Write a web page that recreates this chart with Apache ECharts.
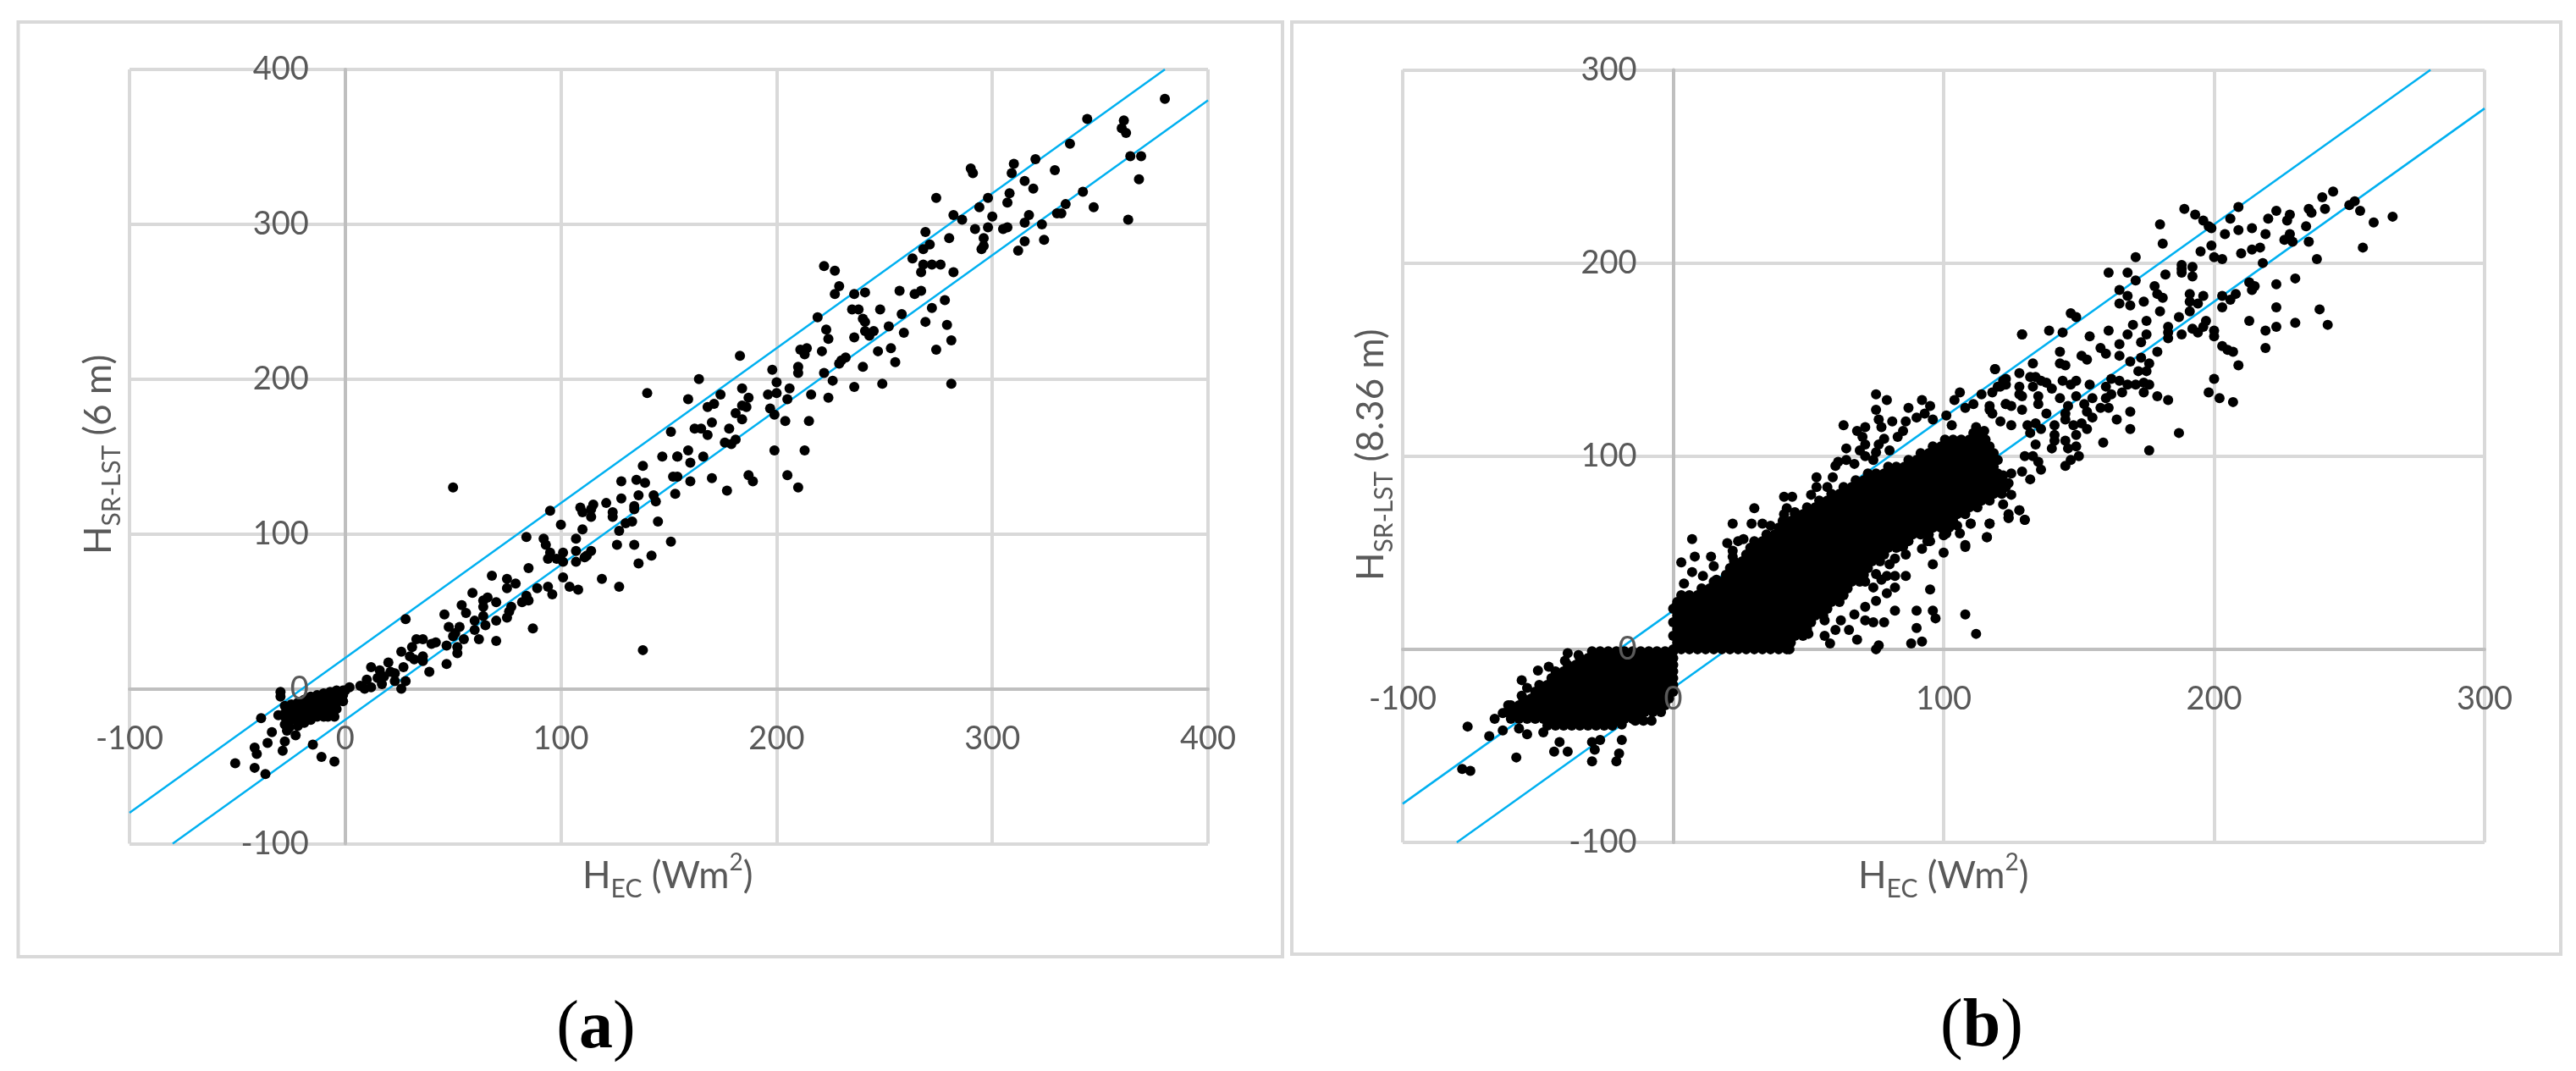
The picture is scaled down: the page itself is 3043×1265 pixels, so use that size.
<!DOCTYPE html>
<html><head><meta charset="utf-8">
<style>html,body{margin:0;padding:0;background:#fff}#c{width:3043px;height:1265px}</style>
<script src="https://cdn.jsdelivr.net/npm/echarts@6/dist/echarts.min.js"></script>
</head><body><div id="c"></div>
<script>
// Panel (a): HEC, HSR-LST (6 m)
const aHigh = [[380,381],[344,368],[361,367],[360,362],[362,359],[336,352],[364,344],[369,344],[320,342],[310,339],[290,336],[291,333],[309,333],[315,328],[329,335],[319,323],[308,320],[298,317],[274,317],[342,321],[368,329],[307,314],[294,311],[334,313],[347,311],[282,306],[286,303],[300,305],[330,307],[332,307],[317,306],[315,301],[323,300],[363,303],[307,298],[305,297],[298,298],[292,297],[269,295],[280,291],[296,291],[324,290],[315,289],[296,286],[295,284],[312,283],[271,287],[268,284],[263,278],[268,274],[272,274],[276,274],[267,269],[282,269],[222,273],[227,270],[229,260],[227,255],[236,255],[241,256],[257,257],[267,257],[264,255],[278,251],[272,246],[235,245],[238,245],[248,245],[219,240],[258,242],[240,239],[241,237],[269,237],[279,235],[252,234],[223,232],[241,231],[245,231],[259,230],[243,228],[224,226],[236,227],[281,225],[253,220],[274,219],[211,219],[214,220],[247,218],[213,216],[221,218],[232,214],[230,212],[255,211],[229,210],[240,208]];
const aMid = [[183,215],[210,208],[198,206],[210,204],[222,204],[164,200],[200,198],[226,199],[236,195],[249,197],[281,197],[184,194],[206,194],[174,190],[200,191],[196,190],[216,190],[224,188],[187,188],[159,187],[205,187],[171,184],[168,182],[184,183],[186,182],[197,181],[181,178],[199,177],[184,174],[204,173],[215,173],[170,172],[162,168],[165,168],[178,168],[168,164],[181,161],[176,159],[179,158],[159,154],[199,154],[213,154],[154,150],[166,150],[160,146],[154,137],[160,134],[170,136],[187,138],[189,134],[205,138],[210,130],[177,128],[140,191],[151,166],[147,150],[138,144],[135,135],[139,133],[128,134],[50,130],[136,125],[128,123],[143,125],[152,137],[154,150],[153,126],[121,120],[115,119],[95,115],[109,117],[134,118],[144,121]];
const aLow = [[110,114],[114,116],[124,114],[134,116],[114,111],[124,111],[100,106],[110,103],[130,107],[133,108],[145,108],[127,102],[84,98],[107,97],[126,93],[134,93],[151,95],[142,86],[136,81],[92,97],[93,93],[95,88],[94,84],[98,84],[101,88],[101,82],[107,82],[107,89],[112,86],[114,89],[111,85],[85,78],[101,72],[119,71],[127,66],[68,73],[75,71],[79,68],[75,65],[89,65],[94,66],[96,61],[104,66],[108,64],[59,62],[66,59],[64,57],[70,56],[64,53],[54,54],[56,49],[46,48],[77,53],[76,50],[82,56],[85,57],[84,60],[64,47],[75,46],[70,44],[60,44],[65,41],[60,38],[48,40],[53,40],[51,36],[55,32],[62,32],[70,31],[87,39],[138,25],[50,34],[52,27],[47,28],[52,23],[33,32],[36,32],[40,29],[42,30],[28,45],[31,27],[26,24],[30,21],[32,19],[36,21],[36,18],[47,16],[39,11],[20,17],[12,14],[16,12],[27,14],[21,11],[23,10],[18,8],[15,7],[10,6],[23,5],[28,5],[26,0],[12,1],[7,2],[9,0],[2,1],[17,3]];
const aNegative = [[-30,-2],[-30,-5],[-39,-19],[-31,-17],[-28,-18],[-34,-28],[-23,-30],[-28,-34],[-36,-35],[-42,-38],[-41,-42],[-29,-40],[-15,-36],[-51,-48],[-42,-51],[-11,-44],[-5,-47],[-37,-55]];
const aBlob = [[-28,-11],[-28,-16],[-25,-10],[-25,-15],[-25,-20],[-22,-9],[-22,-14],[-22,-19],[-22,-24],[-19,-7],[-19,-12],[-19,-17],[-19,-22],[-16,-5],[-16,-10],[-16,-15],[-16,-20],[-13,-4],[-13,-9],[-13,-14],[-13,-18],[-10,-3],[-10,-8],[-10,-13],[-10,-18],[-7,-2],[-7,-6],[-7,-11],[-7,-16],[-4,-1],[-4,-5],[-4,-9],[-4,-13],[-1,-1],[-1,-4],[-1,-8],[0,-1],[-8,-18],[-5,-18],[-28,-23],[-27,-27],[-26,-25]];
const aUpperLine = [[-100,-80],[380,400]];
const aLowerLine = [[-80,-100],[400,380]];

// Panel (b): HEC, HSR-LST (8.36 m)
const bHigh = [[244,237],[240,234],[235,228],[236,226],[241,228],[252,232],[250,230],[254,227],[259,221],[266,224],[255,208],[238,202],[235,211],[234,219],[229,211],[228,215],[226,212],[228,225],[227,222],[223,227],[220,223],[219,215],[214,218],[209,217],[204,215],[209,229],[206,223],[189,228],[193,225],[196,222],[198,219],[199,218],[180,220],[181,210],[199,209],[195,206],[200,203],[203,202],[210,205],[214,207],[217,208],[218,200],[171,203],[161,195],[168,195],[188,199],[188,197],[192,198],[188,195],[192,193],[182,194],[171,191],[165,186],[178,188],[179,184],[181,182],[168,183],[165,179],[169,178],[174,180],[191,184],[196,183],[191,180],[194,179],[191,175],[180,175],[187,172],[203,183],[208,184],[206,181],[203,177],[213,190],[214,186],[215,188],[223,189],[230,192],[223,177],[239,176],[230,169],[223,167],[219,165],[242,168],[213,170],[219,156]];
const bMid = [[147,174],[149,172],[170,168],[175,170],[161,165],[139,165],[144,164],[129,163],[154,162],[168,163],[175,163],[183,167],[183,164],[183,161],[188,163],[192,166],[194,164],[196,167],[197,170],[200,165],[200,162],[173,159],[165,158],[158,156],[160,153],[165,152],[151,152],[153,150],[143,154],[143,148],[145,147],[133,148],[119,145],[128,143],[169,149],[173,151],[176,148],[179,154],[203,157],[205,155],[207,154],[209,147],[200,140],[198,133],[202,130],[207,128],[187,112],[176,103],[159,107],[179,131],[183,129],[169,123],[164,119],[169,114],[161,125],[158,125],[155,130],[172,144],[175,144],[176,137],[174,138],[171,137],[174,133],[166,133],[168,137],[165,139],[162,140],[160,136],[162,132],[160,130],[154,137],[149,139],[147,137],[144,139],[140,135],[138,138],[134,141],[132,141],[133,136],[136,139],[122,139],[123,137],[121,136],[128,136],[128,132],[129,131],[135,131],[135,127],[149,131],[143,130],[146,126],[152,127],[153,123],[155,120],[138,122],[129,124],[125,126],[123,127],[117,126],[118,122],[121,118],[125,116],[131,116],[134,117],[136,114],[132,112],[141,116],[145,122],[145,119],[148,116],[151,117],[153,114],[149,111],[141,111],[141,108],[140,104],[145,108],[146,104],[149,105],[150,100],[147,98],[145,95],[134,106],[130,100],[133,100],[135,97],[136,93],[129,92],[125,91],[122,90],[132,88],[124,86],[125,80],[122,75],[124,68],[128,72],[130,67],[117,65],[116,58],[108,53],[110,65],[100,59],[94,56]];
const bUpperEdge = [[75,132],[79,129],[87,125],[92,129],[95,126],[93,122],[90,120],[86,118],[85,113],[81,118],[75,124],[76,119],[77,115],[63,116],[71,115],[68,113],[70,110],[71,106],[69,103],[64,104],[71,100],[78,109],[76,106],[83,110],[80,103],[75,102],[74,98],[61,97],[64,98],[60,95],[67,96],[53,89],[59,89],[57,84],[53,84],[51,80],[41,79],[44,79],[30,73],[42,73],[45,71],[41,70],[22,65],[29,65],[33,65],[36,64],[7,57],[20,55],[24,56],[26,57],[22,51],[22,48],[8,48],[14,48],[15,43],[3,45],[7,40],[11,38],[4,34],[16,36],[5,27],[1,22],[119,145],[106,133],[104,129],[114,132],[118,133],[111,127],[108,125],[101,121],[96,119],[103,116],[117,124],[123,127],[112,115],[115,113],[129,163],[123,140],[120,136]];
const bLowerEdge = [[108,54],[116,58],[117,65],[124,68],[100,50],[96,44],[95,31],[108,18],[112,8],[90,20],[96,20],[97,16],[82,20],[78,14],[74,14],[71,15],[90,11],[92,4],[88,3],[76,2],[75,0],[68,5],[65,10],[60,10],[58,3],[56,7],[43,0],[50,8],[46,9],[62,15],[56,15],[67,18],[71,22],[75,25],[74,32],[71,35],[79,29],[82,32],[77,36],[86,38],[82,38],[79,38],[82,47],[80,44],[75,39],[86,49],[85,53],[92,52],[95,56],[106,60],[110,65],[105,64],[101,60],[124,70],[128,72],[130,67]];
const bNegativeEdge = [[-76,-40],[-78,-62],[-75,-63],[-68,-45],[-58,-56],[-50,-11],[-46,-9],[-56,-16],[-54,-20],[-44,-53],[-39,-53],[-42,-48],[-30,-58],[-21,-58],[-20,-54],[-19,-47],[-29,-52],[-30,-48],[-27,-47],[-19,-39],[-8,-37],[-11,-37],[-14,-37],[-39,-2],[-48,-43],[-54,-44],[-57,-41],[-63,-42],[-66,-36],[-63,-33],[-61,-29],[-56,-24],[-49,-22],[-47,-19],[-42,-13],[-40,-6],[-35,-3]];
// solid black masses: each row is one HSR-LST value, followed by the HEC values covering it
const bMassPositive = [
[0,0,3,6,9,12,15,18,21,24,27,30,33,36,39,42],
[3.5,1.5,4.5,7.5,10.5,13.5,16.5,19.5,22.5,25.5,28.5,31.5,34.5,37.5,40.5,43.5],
[7,0,3,6,9,12,15,18,21,24,27,30,33,36,39,42,45,48],
[10.5,1.5,4.5,7.5,10.5,13.5,16.5,19.5,22.5,25.5,28.5,31.5,34.5,37.5,40.5,43.5,46.5,49.5],
[14,0,3,6,9,12,15,18,21,24,27,30,33,36,39,42,45,48,51],
[17.5,1.5,4.5,7.5,10.5,13.5,16.5,19.5,22.5,25.5,28.5,31.5,34.5,37.5,40.5,43.5,46.5,49.5,52.5,55.5],
[21,0,3,6,9,12,15,18,21,24,27,30,33,36,39,42,45,48,51,54,57],
[24.5,1.5,4.5,7.5,10.5,13.5,16.5,19.5,22.5,25.5,28.5,31.5,34.5,37.5,40.5,43.5,46.5,49.5,52.5,55.5,58.5,61.5],
[28,3,6,9,12,15,18,21,24,27,30,33,36,39,42,45,48,51,54,57,60,63],
[31.5,10.5,13.5,16.5,19.5,22.5,25.5,28.5,31.5,34.5,37.5,40.5,43.5,46.5,49.5,52.5,55.5,58.5,61.5,64.5],
[35,15,18,21,24,27,30,33,36,39,42,45,48,51,54,57,60,63,66,69],
[38.5,19.5,22.5,25.5,28.5,31.5,34.5,37.5,40.5,43.5,46.5,49.5,52.5,55.5,58.5,61.5,64.5,67.5,70.5],
[42,21,24,27,30,33,36,39,42,45,48,51,54,57,60,63,66,69,72],
[45.5,22.5,25.5,28.5,31.5,34.5,37.5,40.5,43.5,46.5,49.5,52.5,55.5,58.5,61.5,64.5,67.5,70.5,73.5,76.5],
[49,27,30,33,36,39,42,45,48,51,54,57,60,63,66,69,72,75,78],
[52.5,28.5,31.5,34.5,37.5,40.5,43.5,46.5,49.5,52.5,55.5,58.5,61.5,64.5,67.5,70.5,73.5,76.5,79.5,82.5],
[56,30,33,36,39,42,45,48,51,54,57,60,63,66,69,72,75,78,81,84,87],
[59.5,34.5,37.5,40.5,43.5,46.5,49.5,52.5,55.5,58.5,61.5,64.5,67.5,70.5,73.5,76.5,79.5,82.5,85.5,88.5,91.5,94.5],
[63,39,42,45,48,51,54,57,60,63,66,69,72,75,78,81,84,87,90,93,96,99,102],
[66.5,40.5,43.5,46.5,49.5,52.5,55.5,58.5,61.5,64.5,67.5,70.5,73.5,76.5,79.5,82.5,85.5,88.5,91.5,94.5,97.5,100.5,103.5],
[70,45,48,51,54,57,60,63,66,69,72,75,78,81,84,87,90,93,96,99,102,105,108],
[73.5,49.5,52.5,55.5,58.5,61.5,64.5,67.5,70.5,73.5,76.5,79.5,82.5,85.5,88.5,91.5,94.5,97.5,100.5,103.5,106.5,109.5,112.5],
[77,54,57,60,63,66,69,72,75,78,81,84,87,90,93,96,99,102,105,108,111,114,117],
[80.5,58.5,61.5,64.5,67.5,70.5,73.5,76.5,79.5,82.5,85.5,88.5,91.5,94.5,97.5,100.5,103.5,106.5,109.5,112.5,115.5,118.5,121.5],
[84,63,66,69,72,75,78,81,84,87,90,93,96,99,102,105,108,111,114,117,120,123],
[87.5,67.5,70.5,73.5,76.5,79.5,82.5,85.5,88.5,91.5,94.5,97.5,100.5,103.5,106.5,109.5,112.5,115.5,118.5,121.5],
[91,72,75,78,81,84,87,90,93,96,99,102,105,108,111,114,117,120],
[94.5,79.5,82.5,85.5,88.5,91.5,94.5,97.5,100.5,103.5,106.5,109.5,112.5,115.5,118.5],
[98,87,90,93,96,99,102,105,108,111,114,117,120],
[101.5,91.5,94.5,97.5,100.5,103.5,106.5,109.5,112.5,115.5,118.5],
[105,96,99,102,105,108,111,114,117],
[108.5,100.5,103.5,106.5,109.5,112.5,115.5],
[112,111,114]];
const bMassNegative = [
[-1,-30,-27,-24,-21,-18,-15,-12,-9,-6,-3,0],
[-4.5,-34.5,-31.5,-28.5,-25.5,-22.5,-19.5,-16.5,-13.5,-10.5,-7.5,-4.5,-1.5,0],
[-8,-39,-36,-33,-30,-27,-24,-21,-18,-15,-12,-9,-6,-3,0],
[-11.5,-43.5,-40.5,-37.5,-34.5,-31.5,-28.5,-25.5,-22.5,-19.5,-16.5,-13.5,-10.5,-7.5,-4.5,-1.5,0],
[-15,-45,-42,-39,-36,-33,-30,-27,-24,-21,-18,-15,-12,-9,-6,-3,0],
[-18.5,-49.5,-46.5,-43.5,-40.5,-37.5,-34.5,-31.5,-28.5,-25.5,-22.5,-19.5,-16.5,-13.5,-10.5,-7.5,-4.5,-1.5,0],
[-22,-51,-48,-45,-42,-39,-36,-33,-30,-27,-24,-21,-18,-15,-12,-9,-6,-3,0],
[-25.5,-55.5,-52.5,-49.5,-46.5,-43.5,-40.5,-37.5,-34.5,-31.5,-28.5,-25.5,-22.5,-19.5,-16.5,-13.5,-10.5,-7.5,-4.5,-1.5],
[-29,-60,-57,-54,-51,-48,-45,-42,-39,-36,-33,-30,-27,-24,-21,-18,-15,-12,-9,-6,-3],
[-32.5,-61.5,-58.5,-55.5,-52.5,-49.5,-46.5,-43.5,-40.5,-37.5,-34.5,-31.5,-28.5,-25.5,-22.5,-19.5,-16.5,-13.5,-10.5,-7.5,-4.5],
[-36,-60,-57,-54,-51,-48,-45,-42,-39,-36,-33,-30,-27,-24,-21,-18,-15,-12],
[-39.5,-46.5,-43.5,-40.5,-37.5,-34.5,-31.5,-28.5,-25.5,-22.5]];
const bUpperLine = [[-100,-80],[280,300]];
const bLowerLine = [[-80,-100],[300,280]];

const textGrey = '#595959', gridGrey = '#D9D9D9', zeroGrey = '#BFBFBF', lineBlue = '#00B0F0';
const labelFont = 'Lato';
const flat = rows => rows.flatMap(r => r.slice(1).map(x => [x, r[0]]));
const panelA = [].concat(aHigh, aMid, aLow, aNegative, aBlob);
const panelB = [].concat(bHigh, bMid, bUpperEdge, bLowerEdge, bNegativeEdge, flat(bMassPositive), flat(bMassNegative));

function gridAxis(min,max,gridIndex,isX){
  return {
    type:'value', min, max, interval:100, gridIndex, z:0, position:isX?'bottom':'left',
    axisLine:{show:true,onZero:true,lineStyle:{color:zeroGrey,width:4}},
    axisTick:{show:false}, axisLabel:{show:false},
    splitLine:{show:true,lineStyle:{color:gridGrey,width:4}}
  };
}
function labelAxis(min,max,gridIndex,isX,margin,offset){
  return {
    type:'value', min, max, interval:100, gridIndex, z:20, position:isX?'bottom':'left', offset,
    axisLine:{show:false,onZero:false}, axisTick:{show:false}, splitLine:{show:false},
    axisLabel:{show:true,color:textGrey,fontFamily:labelFont,fontSize:38,margin,hideOverlap:false,
      verticalAlign:'middle',showMinLabel:true,showMaxLabel:true}
  };
}
function line(d,x,y){
  return {type:'line',data:d,xAxisIndex:x,yAxisIndex:y,symbol:'none',z:2,silent:true,
    lineStyle:{color:lineBlue,width:2.5},animation:false};
}
function dots(d,x,y){
  return {type:'scatter',data:d,xAxisIndex:x,yAxisIndex:y,symbol:'circle',symbolSize:12,z:3,silent:true,
    itemStyle:{color:'#000',opacity:1},animation:false,large:false,progressive:0};
}
function frame(x,y,w,h){
  return {type:'rect',z:-1,shape:{x,y,width:w,height:h},style:{fill:'none',stroke:gridGrey,lineWidth:4}};
}
const richTitle = {
  a:{fontFamily:labelFont,fontSize:44,fill:textGrey,lineHeight:60,verticalAlign:'middle'},
  b:{fontFamily:labelFont,fontSize:30,fill:textGrey,lineHeight:30,verticalAlign:'bottom'},
  c:{fontFamily:labelFont,fontSize:28,fill:textGrey,lineHeight:28,verticalAlign:'top'}
};
function title(x,y,text,rot){
  return {type:'text',x,y,rotation:rot?Math.PI/2:0,z:30,
    style:{text,align:'left',verticalAlign:'middle',rich:richTitle,fill:textGrey}};
}
const serifRich = {
  p:{fontFamily:'Liberation Serif',fontSize:80,fill:'#000'},
  t:{fontFamily:'Liberation Serif',fontSize:80,fontWeight:'bold',fill:'#000'}
};
function panelTag(x,y,text){
  return {type:'text',x,y,z:30,style:{text,align:'center',verticalAlign:'middle',rich:serifRich}};
}
const chart = echarts.init(document.getElementById('c'),null,{renderer:'canvas'});
chart.setOption({
  backgroundColor:'#fff', animation:false,
  grid:[
    {left:153,top:82,width:1274,height:914.5,outerBoundsMode:'none',containLabel:false},
    {left:1657,top:82.5,width:1278,height:912.5,outerBoundsMode:'none',containLabel:false}
  ],
  xAxis:[gridAxis(-100,400,0,true),gridAxis(-100,300,1,true),labelAxis(-100,400,0,true,59,-183),labelAxis(-100,300,1,true,59,-228.2)],
  yAxis:[gridAxis(-100,400,0,false),gridAxis(-100,300,1,false),labelAxis(-100,400,0,false,43,-254.8),labelAxis(-100,300,1,false,43,-319.5)],
  series:[
    line(aUpperLine,0,0),line(aLowerLine,0,0),line(bUpperLine,1,1),line(bLowerLine,1,1),
    dots(panelA,0,0),dots(panelB,1,1)
  ],
  graphic:[
    frame(21.5,26,1493.5,1104),frame(1526,26,1499,1101),
    title(688,1035,'{a|H}{b|EC}{a| (Wm}{c|2}{a|)}'),
    title(2195,1035,'{a|H}{b|EC}{a| (Wm}{c|2}{a|)}'),
    title(117,655,'{a|H}{b|SR-LST}{a| (6 m)}',true),
    title(1620,686,'{a|H}{b|SR-LST}{a| (8.36 m)}',true),
    panelTag(704,1216,'{p|(}{t|a}{p|)}'),
    panelTag(2341,1214,'{p|(}{t|b}{p|)}')
  ]
});
</script></body></html>
